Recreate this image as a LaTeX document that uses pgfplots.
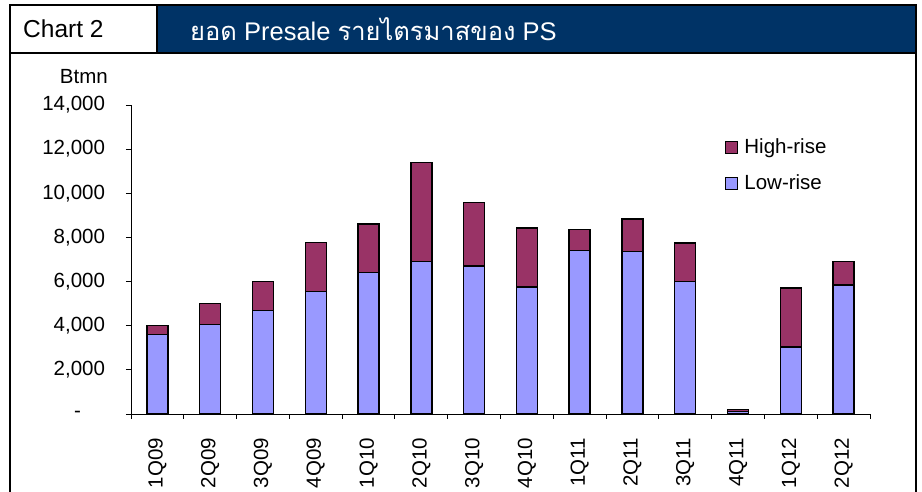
\documentclass[border=0pt]{standalone}
\usepackage{fontspec}
\setmainfont{Liberation Sans}
\newfontfamily\thaifont[Script=Thai]{Loma}
\usepackage{pgfplots}
\pgfplotsset{compat=1.18}
\definecolor{lowc}{HTML}{9999FF}
\definecolor{highc}{HTML}{993366}
\definecolor{navy}{HTML}{003366}
\pgfplotsset{sqlegend/.style={legend image code/.code={\draw[##1, line width=1pt] (0pt,-6pt) rectangle (12pt,6pt);}}}
\begin{document}
\fontsize{20.5}{24}\selectfont
\begin{tikzpicture}[x=1pt,y=1pt]
\path[use as bounding box] (0,0) rectangle (922,492);
\fill[navy] (157,439) rectangle (916,487);
\draw[line width=2pt] (10,0) -- (10,487) -- (916,487) -- (916,0);
\draw[line width=2pt] (10,439) -- (916,439);
\draw[line width=2pt] (157,439) -- (157,487);
\node[anchor=west, font=\fontsize{24.5}{28}\selectfont, inner sep=0pt] at (23,463) {Chart 2};
\node[anchor=west, text=white, font=\fontsize{25.5}{28}\selectfont, inner sep=0pt] at (190,463) {{\thaifont ยอด} Presale {\thaifont รายไตรมาสของ} PS};
\node[anchor=east, inner sep=0pt] at (108,415) {Btmn};
\begin{axis}[
  at={(131pt,78pt)}, anchor=south west,
  scale only axis, width=739pt, height=309pt,
  ybar stacked, bar width=21pt,
  xmin=-0.5, xmax=13.5, ymin=0, ymax=14000,
  scaled y ticks=false,
  axis x line*=bottom, axis y line*=left,
  axis line style={-, line width=0.9pt},
  xtick={0,...,13},
  xticklabels={1Q09,2Q09,3Q09,4Q09,1Q10,2Q10,3Q10,4Q10,1Q11,2Q11,3Q11,4Q11,1Q12,2Q12},
  major x tick style={draw=none},
  minor xtick={-0.5,0.5,...,13.5},
  ytick={0,2000,4000,6000,8000,10000,12000,14000},
  yticklabels={{-\rule{24pt}{0pt}},{2,000},{4,000},{6,000},{8,000},{10,000},{12,000},{14,000}},
  tick align=outside, major tick length=5pt, minor tick length=5pt,
  tick style={black, line width=0.9pt},
  xticklabel style={rotate=90, anchor=east},
  xticklabel shift=12pt, yticklabel shift=14pt,
  legend style={draw=none, fill=none, at={(0.80,0.905)}, anchor=north west, row sep=14pt, legend cell align=left,
    /tikz/every odd column/.append style={column sep=4pt}},
  reverse legend,
]
\addplot[fill=lowc, draw=black, line width=1.4pt, sqlegend]
  coordinates {(0,3600) (1,4050) (2,4700) (3,5550) (4,6400) (5,6900) (6,6700) (7,5750) (8,7420) (9,7350) (10,6000) (11,100) (12,3030) (13,5850)};
\addlegendentry{Low-rise}
\addplot[fill=highc, draw=black, line width=1.4pt, sqlegend]
  coordinates {(0,400) (1,950) (2,1300) (3,2220) (4,2200) (5,4500) (6,2880) (7,2680) (8,940) (9,1480) (10,1740) (11,100) (12,2670) (13,1070)};
\addlegendentry{High-rise}
\end{axis}
\end{tikzpicture}
\end{document}
